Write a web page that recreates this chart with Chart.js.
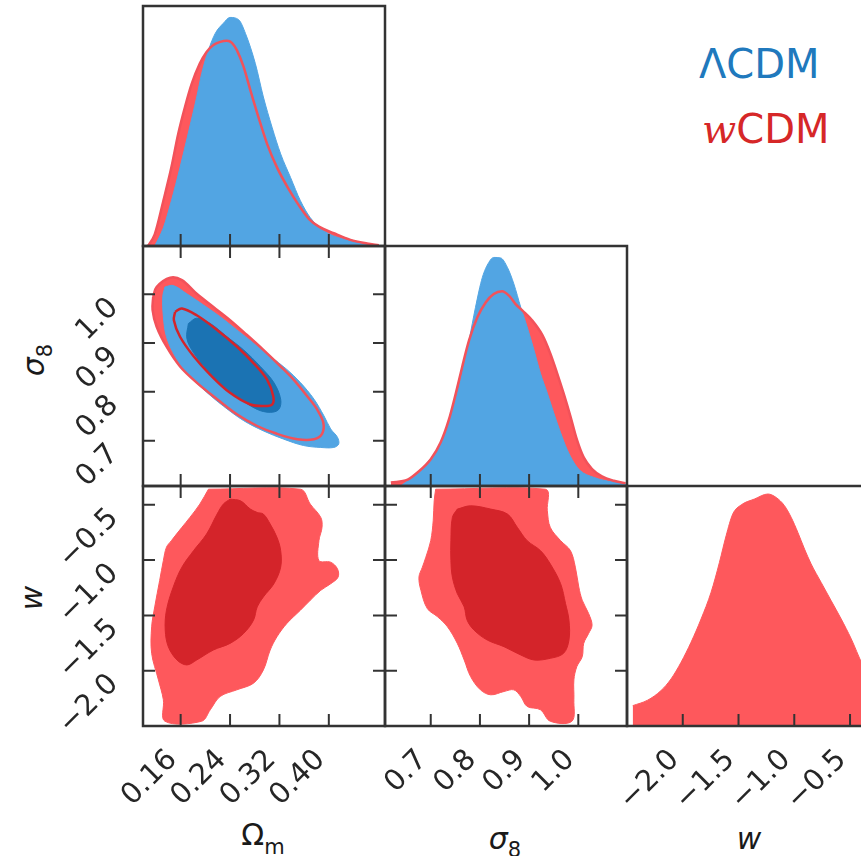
<!DOCTYPE html>
<html><head><meta charset="utf-8">
<script src="https://cdn.jsdelivr.net/npm/chart.js@4.4.1/dist/chart.umd.min.js"></script>
<style>
html,body{margin:0;padding:0;background:#fff;}
body{width:861px;height:856px;overflow:hidden;position:relative;font-family:"DejaVu Sans",sans-serif;}
canvas{position:absolute;}
.t{position:absolute;white-space:nowrap;color:#1a1a1a;line-height:1;font-family:"DejaVu Sans",sans-serif;}
.sub{position:relative;font-size:21px;}
</style></head><body>
<div class="t" style="left:699px;top:44px;font-size:40px;color:#2079bd">ΛCDM</div>
<div class="t" style="left:702px;top:109px;font-size:40px;color:#d62728"><span style="font-family:'DejaVu Serif';font-style:italic">w</span>CDM</div>
<div class="t" style="left:263px;top:820px;font-size:30px;transform:translateX(-50%)">Ω<span class="sub" style="top:9px">m</span></div>
<div class="t" style="left:505px;top:824px;font-size:30px;transform:translateX(-50%)"><i>σ</i><span class="sub" style="top:8px">8</span></div>
<div class="t" style="left:749px;top:824px;font-size:30px;transform:translateX(-50%)"><i>w</i></div>
<div class="t" style="left:34px;top:360px;font-size:30px;transform:translate(-50%,-50%) rotate(-90deg)"><i>σ</i><span class="sub" style="top:8px">8</span></div>
<div class="t" style="left:32px;top:598px;font-size:30px;transform:translate(-50%,-50%) rotate(-90deg)"><i>w</i></div>
<script>
// ---------- axis ranges and ticks ----------
const OM_RANGE = [0.099, 0.491];
const S8_RANGE = [0.607, 1.099];
const W_RANGE = [-2.5, -0.33];
const PDF_RANGE = [0, 1.05];
const OM_TICKS = [0.16, 0.24, 0.32, 0.40];
const S8_TICKS = [0.7, 0.8, 0.9, 1.0];
const W_TICKS = [-2.0, -1.5, -1.0, -0.5];
const OM_LABELS = ['0.16', '0.24', '0.32', '0.40'];
const S8_LABELS = ['0.7', '0.8', '0.9', '1.0'];
const W_LABELS = ['\u22122.0', '\u22121.5', '\u22121.0', '\u22120.5'];

// ---------- 1D marginal posteriors [value, density] ----------
const omPdfLCDM = [[0.118,0],[0.132,0.080],[0.145,0.198],[0.159,0.344],[0.172,0.490],[0.186,0.652],[0.194,0.754],[0.205,0.857],[0.216,0.930],[0.229,0.974],[0.240,1.000],[0.254,0.990],[0.265,0.930],[0.281,0.798],[0.294,0.652],[0.308,0.520],[0.322,0.403],[0.338,0.300],[0.354,0.198],[0.370,0.124],[0.392,0.066],[0.424,0.029],[0.457,0.007],[0.484,0]];
const omPdfWCDM = [[0.107,0],[0.118,0.051],[0.132,0.198],[0.145,0.344],[0.156,0.490],[0.167,0.608],[0.178,0.710],[0.191,0.798],[0.202,0.849],[0.213,0.879],[0.224,0.893],[0.235,0.898],[0.243,0.889],[0.251,0.857],[0.262,0.784],[0.273,0.681],[0.286,0.564],[0.300,0.447],[0.316,0.344],[0.335,0.249],[0.351,0.180],[0.368,0.118],[0.384,0.085],[0.408,0.056],[0.435,0.027],[0.462,0.011],[0.481,0.003]];
const s8PdfLCDM = [[0.639,0],[0.666,0.045],[0.693,0.103],[0.717,0.175],[0.734,0.262],[0.751,0.378],[0.764,0.493],[0.778,0.638],[0.791,0.782],[0.805,0.913],[0.818,0.978],[0.828,1.000],[0.842,0.998],[0.856,0.956],[0.869,0.884],[0.883,0.782],[0.896,0.696],[0.910,0.594],[0.923,0.493],[0.937,0.406],[0.950,0.320],[0.964,0.233],[0.977,0.161],[0.991,0.103],[1.004,0.067],[1.031,0.038],[1.072,0.016],[1.099,0.006]];
const s8PdfWCDM = [[0.619,0.015],[0.653,0.028],[0.673,0.059],[0.700,0.117],[0.720,0.190],[0.737,0.291],[0.751,0.406],[0.764,0.522],[0.778,0.638],[0.795,0.739],[0.812,0.804],[0.828,0.840],[0.845,0.852],[0.859,0.833],[0.872,0.797],[0.886,0.768],[0.906,0.725],[0.927,0.660],[0.943,0.580],[0.957,0.493],[0.970,0.406],[0.984,0.305],[0.997,0.204],[1.011,0.125],[1.028,0.074],[1.048,0.042],[1.072,0.023],[1.096,0.012]];
const wPdfWCDM = [[-2.449,0.089],[-2.315,0.113],[-2.195,0.155],[-2.105,0.206],[-2.015,0.279],[-1.926,0.366],[-1.836,0.468],[-1.746,0.585],[-1.671,0.716],[-1.611,0.833],[-1.552,0.927],[-1.477,0.967],[-1.357,0.993],[-1.237,1.015],[-1.163,1.000],[-1.088,0.964],[-1.028,0.913],[-0.968,0.847],[-0.908,0.774],[-0.849,0.709],[-0.759,0.628],[-0.669,0.548],[-0.579,0.468],[-0.489,0.381],[-0.391,0.271],[-0.330,0.215]];

// ---------- 2D credible contours [x, y] ----------
const omS8LCDM95 = [[0.1345,1.015],[0.148,1.018],[0.170,1.001],[0.197,0.978],[0.224,0.954],[0.251,0.927],[0.278,0.900],[0.305,0.873],[0.332,0.846],[0.354,0.819],[0.376,0.785],[0.392,0.751],[0.403,0.724],[0.414,0.707],[0.416,0.693],[0.408,0.686],[0.387,0.686],[0.359,0.690],[0.327,0.703],[0.294,0.720],[0.262,0.741],[0.229,0.771],[0.197,0.805],[0.170,0.839],[0.151,0.873],[0.137,0.913],[0.132,0.954],[0.131,0.995]];
const omS8LCDM68 = [[0.1725,0.940],[0.186,0.951],[0.208,0.940],[0.235,0.913],[0.262,0.886],[0.289,0.852],[0.311,0.819],[0.322,0.785],[0.319,0.764],[0.305,0.758],[0.284,0.764],[0.257,0.785],[0.229,0.812],[0.202,0.846],[0.181,0.880],[0.170,0.910]];
const omS8WCDM95 = [[0.1155,0.995],[0.121,1.015],[0.143,1.034],[0.162,1.029],[0.186,1.001],[0.213,0.974],[0.240,0.947],[0.267,0.917],[0.294,0.886],[0.322,0.852],[0.343,0.825],[0.365,0.791],[0.381,0.764],[0.391,0.737],[0.389,0.714],[0.376,0.703],[0.349,0.703],[0.316,0.714],[0.284,0.730],[0.251,0.754],[0.219,0.785],[0.186,0.819],[0.159,0.852],[0.137,0.893],[0.121,0.934],[0.1145,0.968]];
const omS8WCDM68 = [[0.151,0.964],[0.162,0.971],[0.186,0.957],[0.219,0.927],[0.251,0.893],[0.278,0.859],[0.300,0.825],[0.310,0.791],[0.308,0.774],[0.294,0.771],[0.273,0.774],[0.240,0.798],[0.208,0.835],[0.181,0.873],[0.159,0.913],[0.149,0.947]];
const omWWCDM95 = [[0.205,-0.359],[0.354,-0.359],[0.370,-0.494],[0.387,-0.614],[0.389,-0.704],[0.384,-0.824],[0.384,-1.004],[0.403,-1.019],[0.414,-1.079],[0.415,-1.154],[0.403,-1.214],[0.387,-1.273],[0.370,-1.363],[0.354,-1.453],[0.332,-1.573],[0.316,-1.693],[0.305,-1.813],[0.294,-1.993],[0.278,-2.113],[0.251,-2.173],[0.224,-2.233],[0.208,-2.353],[0.194,-2.457],[0.1345,-2.457],[0.132,-2.263],[0.124,-2.083],[0.113,-1.843],[0.113,-1.603],[0.118,-1.423],[0.126,-1.184],[0.132,-1.004],[0.137,-0.884],[0.145,-0.824],[0.162,-0.704],[0.175,-0.614],[0.191,-0.494]];
const omWWCDM68 = [[0.240,-0.449],[0.257,-0.464],[0.273,-0.539],[0.284,-0.569],[0.294,-0.584],[0.305,-0.674],[0.316,-0.794],[0.322,-0.914],[0.322,-1.064],[0.311,-1.214],[0.294,-1.333],[0.284,-1.423],[0.278,-1.543],[0.262,-1.663],[0.240,-1.753],[0.213,-1.813],[0.186,-1.903],[0.170,-1.948],[0.154,-1.903],[0.140,-1.783],[0.135,-1.633],[0.137,-1.453],[0.148,-1.243],[0.162,-1.064],[0.181,-0.914],[0.202,-0.764],[0.219,-0.584],[0.229,-0.494]];
const s8WWCDM95 = [[0.710,-0.359],[0.933,-0.359],[0.937,-0.554],[0.943,-0.704],[0.964,-0.824],[0.984,-0.914],[0.994,-1.064],[1.001,-1.243],[1.008,-1.363],[1.021,-1.483],[1.028,-1.588],[1.021,-1.663],[1.011,-1.753],[1.008,-1.873],[0.997,-1.963],[0.991,-2.083],[0.991,-2.263],[0.987,-2.457],[0.943,-2.457],[0.923,-2.353],[0.896,-2.323],[0.883,-2.233],[0.869,-2.173],[0.849,-2.188],[0.822,-2.218],[0.801,-2.173],[0.781,-2.053],[0.768,-1.903],[0.754,-1.753],[0.734,-1.603],[0.714,-1.513],[0.693,-1.438],[0.680,-1.273],[0.676,-1.154],[0.683,-1.064],[0.690,-0.974],[0.700,-0.824],[0.705,-0.644],[0.707,-0.464]];
const s8WWCDM68 = [[0.754,-0.539],[0.781,-0.509],[0.822,-0.539],[0.856,-0.584],[0.876,-0.704],[0.896,-0.824],[0.923,-0.914],[0.943,-1.034],[0.964,-1.213],[0.974,-1.393],[0.981,-1.543],[0.981,-1.723],[0.970,-1.843],[0.943,-1.888],[0.910,-1.903],[0.883,-1.858],[0.849,-1.783],[0.815,-1.723],[0.788,-1.633],[0.774,-1.543],[0.768,-1.423],[0.754,-1.303],[0.744,-1.154],[0.741,-1.004],[0.741,-0.824],[0.744,-0.614]];

// ---------- styles ----------
const BLUE_LIGHT = '#52a5e3', BLUE_DARK = '#1b73b3';
const RED_LIGHT = '#fe585c', RED_DARK = '#d4242a', RED_LINE = '#f2525a';
const FRAME = '#333333';
const TICK_FONT = {family: 'DejaVu Sans', size: 29};
const COL_X = [143, 385, 627], ROW_Y = [6, 246, 486], PW = 242, PH = 240, PAGE_H = 856;

const toXY = a => a.map(([x, y]) => ({x, y}));
const closed = a => toXY(a.concat([a[0]]));
const shapeFill = (a, c, order) => ({data: closed(a), fill: 'shape', backgroundColor: c, borderColor: c, borderWidth: 1, pointRadius: 0, tension: 0.35, order});
const shapeLine = (a, c, w, order) => ({data: closed(a), fill: false, borderColor: c, borderWidth: w, pointRadius: 0, tension: 0.35, order});
const pdfFill = (a, c, order) => ({data: toXY(a), fill: 'origin', backgroundColor: c, borderColor: c, borderWidth: 1, pointRadius: 0, cubicInterpolationMode: 'monotone', order});
const pdfLine = (a, c, w, order) => ({data: toXY(a), fill: false, borderColor: c, borderWidth: w, pointRadius: 0, cubicInterpolationMode: 'monotone', order});

function makeFrame(xTicks, yTicks, full) {
  return {
    id: 'panelFrame',
    afterDraw(chart) {
      const {ctx, chartArea: a} = chart;
      const xs = chart.scales.x, ys = chart.scales.y, L = 12;
      ctx.save();
      ctx.strokeStyle = FRAME;
      ctx.lineWidth = 2;
      ctx.beginPath();
      for (const v of xTicks) {
        const p = xs.getPixelForValue(v);
        ctx.moveTo(p, a.bottom); ctx.lineTo(p, a.bottom - L);
        if (full) { ctx.moveTo(p, a.top); ctx.lineTo(p, a.top + L); }
      }
      if (full) for (const v of yTicks) {
        const p = ys.getPixelForValue(v);
        ctx.moveTo(a.left, p); ctx.lineTo(a.left + L, p);
        ctx.moveTo(a.right, p); ctx.lineTo(a.right - L, p);
      }
      ctx.stroke();
      ctx.lineWidth = 2.5;
      ctx.strokeRect(a.left, a.top, a.right - a.left, a.bottom - a.top);
      ctx.restore();
    }
  };
}

function panel(o) {
  const {col, row, xRange, yRange, xTicks, yTicks, xLabels, yLabels, showX, showY, full, datasets} = o;
  const padL = showY ? COL_X[col] : 6;
  const padT = showY ? 22 : 6;
  const padR = showX ? 30 : 6;
  const padB = showX ? PAGE_H - (ROW_Y[row] + PH) : (showY ? 22 : 6);
  const w = PW + padL + padR, h = PH + padT + padB;
  const cv = document.createElement('canvas');
  cv.width = w; cv.height = h;
  cv.style.left = (COL_X[col] - padL) + 'px';
  cv.style.top = (ROW_Y[row] - padT) + 'px';
  cv.style.width = w + 'px'; cv.style.height = h + 'px';
  document.body.appendChild(cv);
  new Chart(cv, {
    type: 'line',
    data: {datasets},
    options: {
      responsive: false, animation: false, devicePixelRatio: 1, events: [],
      layout: {padding: {left: showY ? 0 : padL, top: padT, right: padR, bottom: showX ? 0 : padB}},
      plugins: {legend: {display: false}, tooltip: {enabled: false}},
      scales: {
        x: {
          type: 'linear', min: xRange[0], max: xRange[1], display: showX,
          afterBuildTicks: s => { s.ticks = xTicks.map(v => ({value: v})); },
          afterFit: s => { if (showX) s.height = padB; },
          grid: {display: false, drawTicks: true, tickLength: 17},
          border: {display: false},
          ticks: {padding: 0, labelOffset: -8, minRotation: 45, maxRotation: 45, autoSkip: false,
                  font: TICK_FONT, color: '#262626', callback: (v, i) => xLabels ? xLabels[i] : ''}
        },
        y: {
          type: 'linear', min: yRange[0], max: yRange[1], display: showY,
          afterBuildTicks: s => { s.ticks = yTicks.map(v => ({value: v})); },
          afterFit: s => { if (showY) s.width = padL; },
          grid: {display: false, drawTicks: true, tickLength: 29},
          border: {display: false},
          ticks: {padding: 0, labelOffset: 9, minRotation: 45, maxRotation: 45, autoSkip: false,
                  font: TICK_FONT, color: '#262626', callback: (v, i) => yLabels ? yLabels[i] : ''}
        }
      }
    },
    plugins: [makeFrame(xTicks, yTicks, full)]
  });
}

// Row 0: Omega_m marginal
panel({col: 0, row: 0, xRange: OM_RANGE, yRange: PDF_RANGE, xTicks: OM_TICKS, yTicks: [], showX: false, showY: false, full: false,
  datasets: [pdfFill(omPdfWCDM, RED_LIGHT, 3), pdfFill(omPdfLCDM, BLUE_LIGHT, 2), pdfLine(omPdfWCDM, RED_LINE, 2.5, 1)]});
// Row 1: Omega_m vs sigma_8
panel({col: 0, row: 1, xRange: OM_RANGE, yRange: S8_RANGE, xTicks: OM_TICKS, yTicks: S8_TICKS, yLabels: S8_LABELS, showX: false, showY: true, full: true,
  datasets: [shapeFill(omS8WCDM95, RED_LIGHT, 5), shapeFill(omS8LCDM95, BLUE_LIGHT, 4), shapeFill(omS8LCDM68, BLUE_DARK, 3),
             shapeLine(omS8WCDM95, RED_LINE, 2.5, 2), shapeLine(omS8WCDM68, RED_DARK, 2.5, 1)]});
// Row 1: sigma_8 marginal
panel({col: 1, row: 1, xRange: S8_RANGE, yRange: PDF_RANGE, xTicks: S8_TICKS, yTicks: [], showX: false, showY: false, full: false,
  datasets: [pdfFill(s8PdfWCDM, RED_LIGHT, 3), pdfFill(s8PdfLCDM, BLUE_LIGHT, 2), pdfLine(s8PdfWCDM, RED_LINE, 2.5, 1)]});
// Row 2: Omega_m vs w
panel({col: 0, row: 2, xRange: OM_RANGE, yRange: W_RANGE, xTicks: OM_TICKS, yTicks: W_TICKS, xLabels: OM_LABELS, yLabels: W_LABELS, showX: true, showY: true, full: true,
  datasets: [shapeFill(omWWCDM95, RED_LIGHT, 2), shapeFill(omWWCDM68, RED_DARK, 1)]});
// Row 2: sigma_8 vs w
panel({col: 1, row: 2, xRange: S8_RANGE, yRange: W_RANGE, xTicks: S8_TICKS, yTicks: W_TICKS, xLabels: S8_LABELS, showX: true, showY: false, full: true,
  datasets: [shapeFill(s8WWCDM95, RED_LIGHT, 2), shapeFill(s8WWCDM68, RED_DARK, 1)]});
// Row 2: w marginal
panel({col: 2, row: 2, xRange: W_RANGE, yRange: PDF_RANGE, xTicks: W_TICKS, yTicks: [], xLabels: W_LABELS, showX: true, showY: false, full: false,
  datasets: [pdfFill(wPdfWCDM, RED_LIGHT, 1)]});
</script>
</body></html>
